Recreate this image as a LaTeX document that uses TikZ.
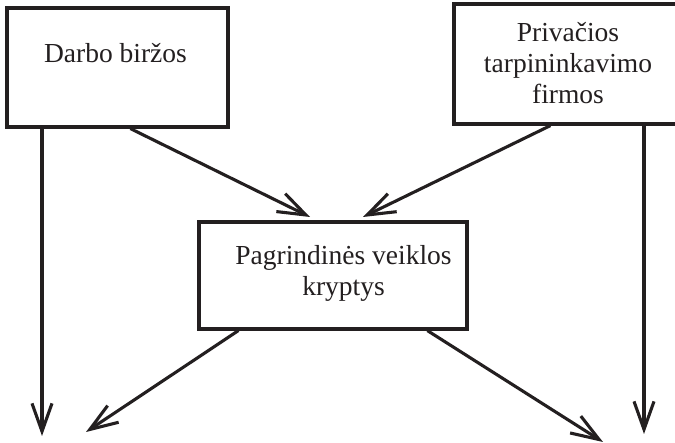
\documentclass[tikz,border=0pt]{standalone}
\usepackage{fontspec}
\setmainfont{Liberation Serif}
\usepackage{xcolor}
\usetikzlibrary{arrows.meta,positioning,calc}
\definecolor{schemaink}{RGB}{35,31,32}

\tikzset{
  blokas/.style={draw=schemaink, line width=3.2pt, rectangle, inner sep=0pt},
  tekstas/.style={text=schemaink, font=\fontsize{27.5}{31}\selectfont, align=center, inner sep=0pt},
  rodykle/.style={draw=schemaink, line width=3.1pt, -{Straight Barb[length=28pt,width=20pt,line width=3.1pt]}}
}

\begin{document}
\begin{tikzpicture}[x=1pt, y=-1pt]
				\clip (0,0) rectangle (675,443);
				
				% Draw the three boxes
				\node[blokas, minimum width=221pt, minimum height=119pt] (darbo) at (117.5,67.5) {};
				\node[blokas, minimum width=230pt, minimum height=120pt] (firmos) at (569,64) {};
				\node[blokas, minimum width=268pt, minimum height=107pt] (veikla) at (333,275.5) {};
				
				% Box texts
				\node[tekstas, anchor=base] (darbotxt) at (115.5,63) {Darbo biržos};
				\node[tekstas] (firmostxt) at (568,62.7) {Privačios\\tarpininkavimo\\firmos};
				\node[tekstas] (veiklatxt) at (343.5,273.1) {Pagrindinės veiklos\\kryptys};
				
				% Free ends of the arrows
				\coordinate (kairys) at (42,436);
				\coordinate (desinys) at (644,434);
				\coordinate (ivirsu1) at (310,217);
				\coordinate (ivirsu2) at (363,217);
				\coordinate (apacia1) at (86,432);
				\coordinate (apacia2) at (603,442);
				
				% Vertical arrows
				\draw[rodykle] (darbo.south -| kairys) -- (kairys);
				\draw[rodykle] (firmos.south -| desinys) -- (desinys);
				
				% Arrows into the middle box
				\draw[rodykle] ($(darbo.south west)+(125,0)$) -- (ivirsu1);
				\draw[rodykle] ($(firmos.south west)+(98,0)$) -- (ivirsu2);
				
				% Arrows out of the middle box
				\draw[rodykle] ($(veikla.south west)+(41,0)$) -- (apacia1);
				\draw[rodykle] ($(veikla.south west)+(230,0)$) -- (apacia2);
			\end{tikzpicture}
\end{document}
